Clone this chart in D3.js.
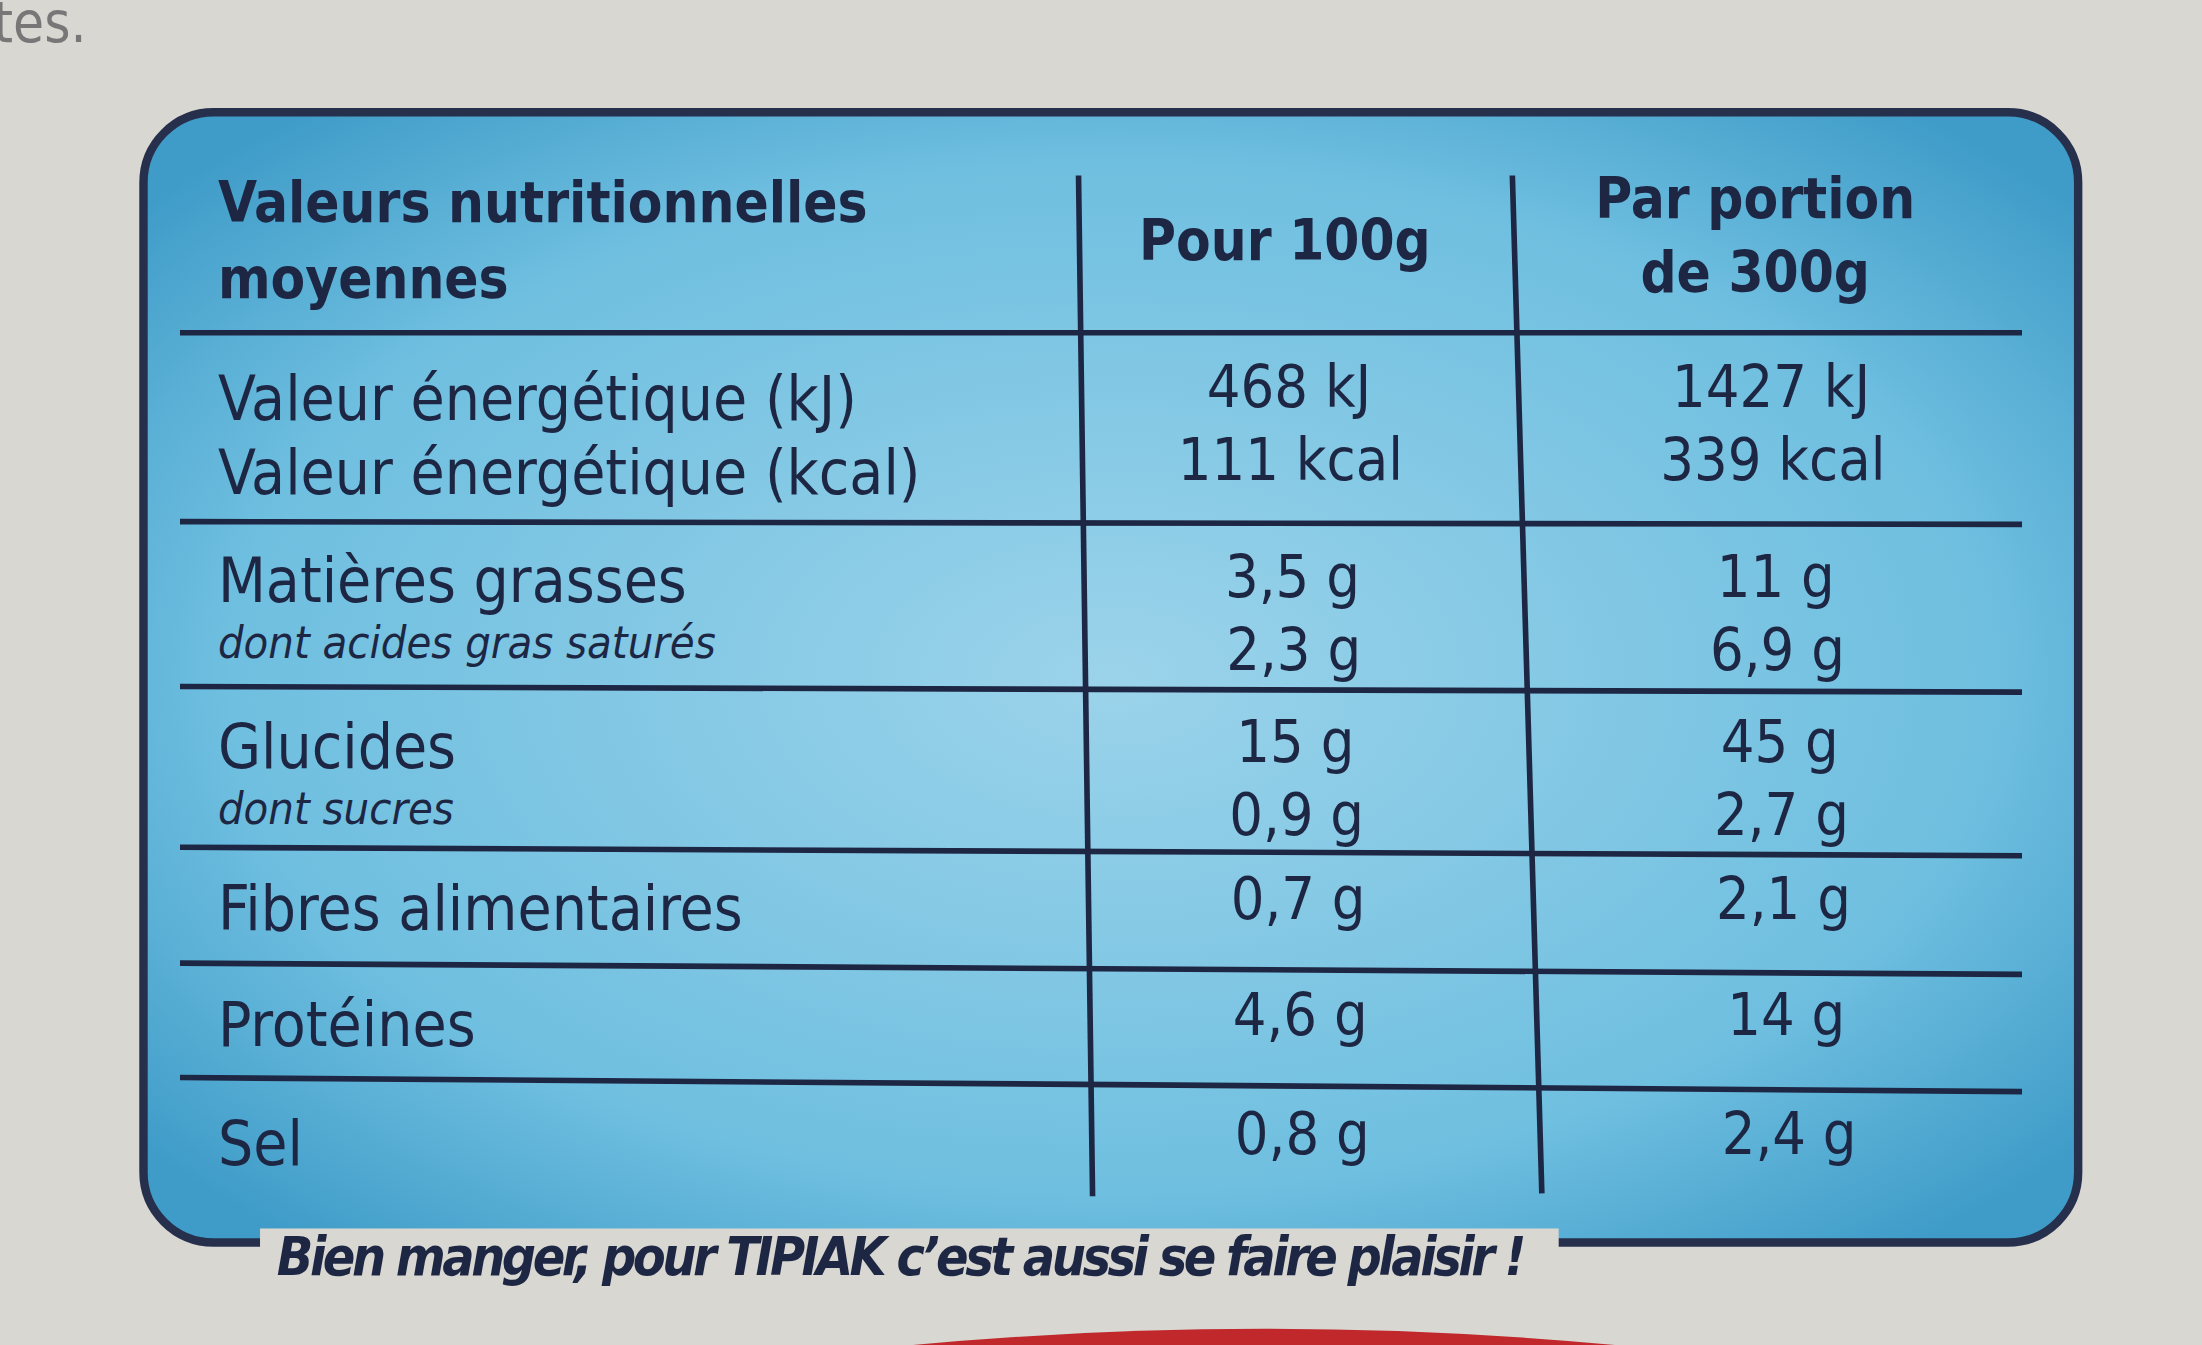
<html lang="fr">
<head>
<script src="https://d3js.org/d3.v7.min.js" charset="utf-8"></script>
<style>
  body { margin: 0; background: #d9d7d1; }
  text { font-family: "DejaVu Sans Condensed", "DejaVu Sans", sans-serif; fill: #1d2744; }
</style>
</head>
<body>
<script>
// nutrition table values
var rowLabels = [["Valeur énergétique (kJ)", "Valeur énergétique (kcal)"], ["Matières grasses"], ["Glucides"], ["Fibres alimentaires"], ["Protéines"], ["Sel"]]
var subLabels = [null, "dont acides gras saturés", "dont sucres", null, null, null]
var per100 = [["468 kJ", "111 kcal"], ["3,5 g", "2,3 g"], ["15 g", "0,9 g"], ["0,7 g"], ["4,6 g"], ["0,8 g"]]
var perPortion = [["1427 kJ", "339 kcal"], ["11 g", "6,9 g"], ["45 g", "2,7 g"], ["2,1 g"], ["14 g"], ["2,4 g"]]
var rowEdges = [237, 372, 490, 605, 688, 770, 858]

var W = 1568, H = 958
var svg = d3.select("body").append("svg")
  .attr("width", 2202).attr("height", 1345)
  .attr("viewBox", "0 0 " + W + " " + H)

var defs = svg.append("defs")
var grad = defs.append("radialGradient").attr("id", "bg").attr("cx", "50%").attr("cy", "50%").attr("r", "65%")
grad.append("stop").attr("offset", "0%").attr("stop-color", "#9bd3ea")
grad.append("stop").attr("offset", "70%").attr("stop-color", "#6fbfe0")
grad.append("stop").attr("offset", "100%").attr("stop-color", "#3f9cc8")

svg.append("text").attr("x", -5).attr("y", 30).attr("font-size", 40).style("fill", "#777").text("tes.")

// red strip at bottom
svg.append("path").attr("d", "M650,958 Q900,935 1150,958 Z").attr("fill", "#c0282c")

svg.append("rect").attr("x", 102).attr("y", 80).attr("width", 1378).attr("height", 805)
  .attr("rx", 50).attr("fill", "url(#bg)").attr("stroke", "#26304d").attr("stroke-width", 6)

// white break in the bottom border for the slogan
svg.append("rect").attr("x", 185).attr("y", 875).attr("width", 925).attr("height", 20).attr("fill", "#d9d7d1")
svg.append("text").attr("x", 197).attr("y", 908).attr("font-size", 38).attr("font-weight", "bold")
  .attr("font-style", "italic").attr("textLength", 890)
  .text("Bien manger, pour TIPIAK c’est aussi se faire plaisir !")

var line = "#1d2744"
rowEdges.slice(0, -1).forEach(function(y, i) {
  svg.append("line").attr("x1", 128).attr("x2", 1440).attr("y1", y - i * 0.5).attr("y2", y + i * 1.5)
    .attr("stroke", line).attr("stroke-width", 4)
})
svg.append("line").attr("x1", 768).attr("x2", 778).attr("y1", 125).attr("y2", 852).attr("stroke", line).attr("stroke-width", 4)
svg.append("line").attr("x1", 1077).attr("x2", 1098).attr("y1", 125).attr("y2", 850).attr("stroke", line).attr("stroke-width", 4)

// header
svg.append("text").attr("x", 155).attr("y", 158).attr("font-size", 40).attr("font-weight", "bold").text("Valeurs nutritionnelles")
svg.append("text").attr("x", 155).attr("y", 212).attr("font-size", 40).attr("font-weight", "bold").text("moyennes")
svg.append("text").attr("x", 915).attr("y", 185).attr("font-size", 40).attr("font-weight", "bold").attr("text-anchor", "middle").text("Pour 100g")
svg.append("text").attr("x", 1250).attr("y", 155).attr("font-size", 40).attr("font-weight", "bold").attr("text-anchor", "middle").text("Par portion")
svg.append("text").attr("x", 1250).attr("y", 208).attr("font-size", 40).attr("font-weight", "bold").attr("text-anchor", "middle").text("de 300g")

var c1 = d3.scaleLinear().domain([237, 858]).range([917, 928])
var c2 = d3.scaleLinear().domain([237, 858]).range([1260, 1275])

rowLabels.forEach(function(labels, i) {
  var top = rowEdges[i], bot = rowEdges[i + 1], h = bot - top
  var two = labels.length > 1 || subLabels[i]
  labels.forEach(function(t, j) {
    var y = labels.length > 1 ? top + 62 + j * 53 : (two ? top + 57 : top + h / 2 + 16)
    svg.append("text").attr("x", 155).attr("y", y).attr("font-size", 44).text(t)
  })
  if (subLabels[i]) {
    svg.append("text").attr("x", 155).attr("y", top + 97).attr("font-size", 32)
      .attr("font-style", "italic").text(subLabels[i])
  }
  per100[i].forEach(function(v, j) {
    var y = per100[i].length > 1 ? top + 53 + j * 52 : top + h / 2 + 8
    svg.append("text").attr("x", c1(y)).attr("y", y).attr("font-size", 42).attr("text-anchor", "middle").text(v)
    svg.append("text").attr("x", c2(y)).attr("y", y).attr("font-size", 42).attr("text-anchor", "middle").text(perPortion[i][j])
  })
})
</script>
</body>
</html>
